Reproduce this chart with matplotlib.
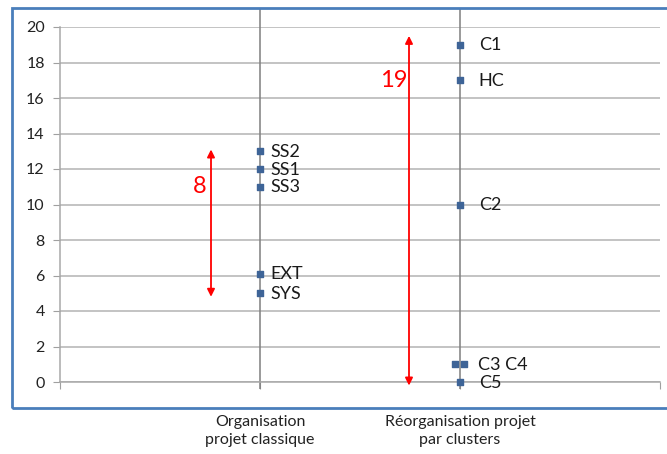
import matplotlib
matplotlib.use("Agg")
import matplotlib.pyplot as plt
from matplotlib.patches import Rectangle

plt.rcParams['font.family'] = ['Lato', 'DejaVu Sans']

categories = ["Organisation\nprojet classique", "Réorganisation projet\npar clusters"]

# Series: classic organisation (x = 1)
classic_labels = ["SS2", "SS1", "SS3", "EXT", "SYS"]
classic_x = [1.0, 1.0, 1.0, 1.0, 1.0]
classic_y = [13, 12, 11, 6.1, 5]

# Series: reorganisation by clusters (x = 2)
cluster_labels = ["C1", "HC", "C2", "C3", "C4", "C5"]
cluster_x = [2.0, 2.0, 2.0, 1.975, 2.02, 2.0]
cluster_y = [19, 17, 10, 1, 1, 0]
cluster_text = ["C1", "HC", "C2", "", "C3 C4", "C5"]

# Spread arrows
arrow_x = [0.755, 1.745]
arrow_bottom = [4.8, -0.2]
arrow_top = [13.1, 19.5]
arrow_text = ["8", "19"]
arrow_text_pos = [(0.70, 11.0), (1.67, 17.0)]

fig = plt.figure(figsize=(6.67, 4.54), dpi=100)
ax = fig.add_axes([60/667, 72/454, 600/667, 355/454])

ax.set_xlim(0, 3)
ax.set_ylim(0, 20)
ax.set_yticks(range(0, 21, 2))
ax.set_xticks([0, 1, 2, 3])
ax.set_xticklabels([""] + categories + [""], fontsize=11.5, color="#222222", linespacing=1.35)
ax.tick_params(axis='x', length=5, color="#A0A0A0", pad=19)
ax.tick_params(axis='y', length=5, color="#A0A0A0", pad=6, labelsize=11.5, labelcolor="#222222")
ax.grid(axis='y', color="#B3B3B3", linewidth=1.1)
ax.set_axisbelow(True)
for s in ['top', 'right']:
    ax.spines[s].set_visible(False)
for s in ['left', 'bottom']:
    ax.spines[s].set_color("#A8A8A8")
    ax.spines[s].set_linewidth(1.1)

# vertical category lines
ax.vlines([1, 2], -0.4, 21.05, color="#7F7F7F", linewidth=1.1, clip_on=False, zorder=2)

mc = "#3E6497"
ax.scatter(classic_x, classic_y, marker='s', s=24, color=mc, zorder=4, clip_on=False)
ax.scatter(cluster_x, cluster_y, marker='s', s=24, color=mc, zorder=4, clip_on=False)

for lab, x, y in zip(classic_labels, classic_x, classic_y):
    ax.annotate(lab, (x, y), xytext=(7.5, -0.5), textcoords='offset points',
                va='center', ha='left', fontsize=13, color="#1a1a1a")
for lab, x, y in zip(cluster_text, cluster_x, cluster_y):
    if lab:
        off = 13 if lab == "C3 C4" else 13.5
        ax.annotate(lab, (2.0, y), xytext=(off, -0.5), textcoords='offset points',
                    va='center', ha='left', fontsize=13, color="#1a1a1a")

for x, b, t in zip(arrow_x, arrow_bottom, arrow_top):
    ax.annotate("", xy=(x, t), xytext=(x, b),
                arrowprops=dict(arrowstyle='<|-|>', color='#FF0000', lw=1.3,
                                mutation_scale=11, shrinkA=0, shrinkB=0),
                annotation_clip=False)
for txt, (x, y) in zip(arrow_text, arrow_text_pos):
    ax.text(x, y, txt, color='#FF0000', fontsize=17, ha='center', va='center')

# outer chart border
fig.patches.append(Rectangle((12/667, (454-408)/454), 680/667, 400/454,
                             transform=fig.transFigure, fill=False,
                             edgecolor="#4A7EBB", linewidth=2))

fig.savefig("out.png", dpi=100)
